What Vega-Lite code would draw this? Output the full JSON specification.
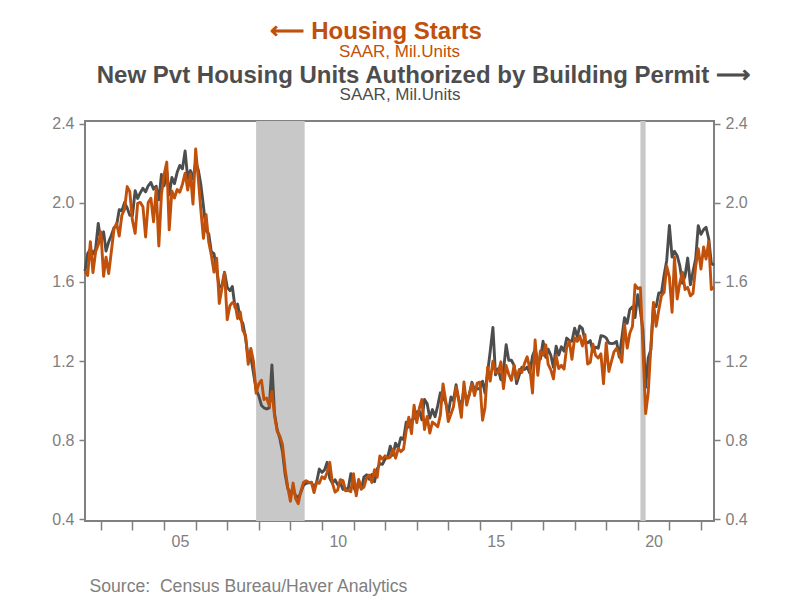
{
  "$schema": "https://vega.github.io/schema/vega-lite/v6.json",
  "width": 629,
  "height": 400,
  "autosize": {"type": "none"},
  "padding": {"left": 85, "top": 121, "right": 86, "bottom": 79},
  "background": "white",
  "config": {
    "view": {"stroke": "#808080", "strokeWidth": 2},
    "font": "Liberation Sans"
  },
  "title": {
    "text": "⟵ Housing Starts\u00a0\u00a0\u00a0\u00a0\u00a0\u00a0\u00a0\u200b",
    "subtitle": "SAAR, Mil.Units",
    "color": "#C0500A",
    "subtitleColor": "#C0500A",
    "font": "Liberation Sans",
    "subtitleFont": "Liberation Sans",
    "fontSize": 24,
    "fontWeight": "bold",
    "subtitleFontSize": 17,
    "subtitlePadding": 0,
    "anchor": "middle",
    "frame": "group",
    "offset": 3
  },
  "datasets": {
    "housing": [
      {"date":"2002-07-01","starts":1.655,"permits":1.654},
      {"date":"2002-08-01","starts":1.633,"permits":1.744},
      {"date":"2002-09-01","starts":1.804,"permits":1.767},
      {"date":"2002-10-01","starts":1.648,"permits":1.742},
      {"date":"2002-11-01","starts":1.753,"permits":1.768},
      {"date":"2002-12-01","starts":1.788,"permits":1.896},
      {"date":"2003-01-01","starts":1.853,"permits":1.808},
      {"date":"2003-02-01","starts":1.629,"permits":1.854},
      {"date":"2003-03-01","starts":1.726,"permits":1.757},
      {"date":"2003-04-01","starts":1.643,"permits":1.803},
      {"date":"2003-05-01","starts":1.751,"permits":1.835},
      {"date":"2003-06-01","starts":1.867,"permits":1.875},
      {"date":"2003-07-01","starts":1.897,"permits":1.885},
      {"date":"2003-08-01","starts":1.833,"permits":1.966},
      {"date":"2003-09-01","starts":1.939,"permits":1.961},
      {"date":"2003-10-01","starts":1.967,"permits":2.002},
      {"date":"2003-11-01","starts":2.083,"permits":1.975},
      {"date":"2003-12-01","starts":2.057,"permits":1.938},
      {"date":"2004-01-01","starts":1.911,"permits":1.937},
      {"date":"2004-02-01","starts":1.846,"permits":2.062},
      {"date":"2004-03-01","starts":1.998,"permits":2.023},
      {"date":"2004-04-01","starts":2.003,"permits":2.052},
      {"date":"2004-05-01","starts":1.981,"permits":2.074},
      {"date":"2004-06-01","starts":1.828,"permits":2.056},
      {"date":"2004-07-01","starts":2.002,"permits":2.087},
      {"date":"2004-08-01","starts":2.024,"permits":2.104},
      {"date":"2004-09-01","starts":1.905,"permits":2.070},
      {"date":"2004-10-01","starts":2.072,"permits":2.085},
      {"date":"2004-11-01","starts":1.782,"permits":2.016},
      {"date":"2004-12-01","starts":2.042,"permits":2.144},
      {"date":"2005-01-01","starts":2.144,"permits":2.087},
      {"date":"2005-02-01","starts":2.207,"permits":2.163},
      {"date":"2005-03-01","starts":1.864,"permits":2.041},
      {"date":"2005-04-01","starts":2.061,"permits":2.129},
      {"date":"2005-05-01","starts":2.025,"permits":2.098},
      {"date":"2005-06-01","starts":2.068,"permits":2.155},
      {"date":"2005-07-01","starts":2.054,"permits":2.190},
      {"date":"2005-08-01","starts":2.095,"permits":2.173},
      {"date":"2005-09-01","starts":2.151,"permits":2.263},
      {"date":"2005-10-01","starts":2.065,"permits":2.124},
      {"date":"2005-11-01","starts":2.147,"permits":2.164},
      {"date":"2005-12-01","starts":1.994,"permits":2.121},
      {"date":"2006-01-01","starts":2.273,"permits":2.209},
      {"date":"2006-02-01","starts":2.119,"permits":2.166},
      {"date":"2006-03-01","starts":1.969,"permits":2.096},
      {"date":"2006-04-01","starts":1.821,"permits":1.984},
      {"date":"2006-05-01","starts":1.942,"permits":1.861},
      {"date":"2006-06-01","starts":1.802,"permits":1.844},
      {"date":"2006-07-01","starts":1.737,"permits":1.753},
      {"date":"2006-08-01","starts":1.650,"permits":1.743},
      {"date":"2006-09-01","starts":1.720,"permits":1.661},
      {"date":"2006-10-01","starts":1.491,"permits":1.572},
      {"date":"2006-11-01","starts":1.570,"permits":1.582},
      {"date":"2006-12-01","starts":1.649,"permits":1.649},
      {"date":"2007-01-01","starts":1.409,"permits":1.573},
      {"date":"2007-02-01","starts":1.480,"permits":1.556},
      {"date":"2007-03-01","starts":1.495,"permits":1.577},
      {"date":"2007-04-01","starts":1.490,"permits":1.472},
      {"date":"2007-05-01","starts":1.415,"permits":1.488},
      {"date":"2007-06-01","starts":1.448,"permits":1.414},
      {"date":"2007-07-01","starts":1.354,"permits":1.390},
      {"date":"2007-08-01","starts":1.330,"permits":1.317},
      {"date":"2007-09-01","starts":1.183,"permits":1.216},
      {"date":"2007-10-01","starts":1.264,"permits":1.221},
      {"date":"2007-11-01","starts":1.197,"permits":1.138},
      {"date":"2007-12-01","starts":1.037,"permits":1.055},
      {"date":"2008-01-01","starts":1.084,"permits":1.024},
      {"date":"2008-02-01","starts":1.103,"permits":0.975},
      {"date":"2008-03-01","starts":1.005,"permits":0.963},
      {"date":"2008-04-01","starts":1.013,"permits":0.957},
      {"date":"2008-05-01","starts":0.973,"permits":0.963},
      {"date":"2008-06-01","starts":1.046,"permits":1.180},
      {"date":"2008-07-01","starts":0.923,"permits":0.934},
      {"date":"2008-08-01","starts":0.844,"permits":0.852},
      {"date":"2008-09-01","starts":0.820,"permits":0.807},
      {"date":"2008-10-01","starts":0.777,"permits":0.741},
      {"date":"2008-11-01","starts":0.652,"permits":0.626},
      {"date":"2008-12-01","starts":0.560,"permits":0.555},
      {"date":"2009-01-01","starts":0.490,"permits":0.531},
      {"date":"2009-02-01","starts":0.582,"permits":0.550},
      {"date":"2009-03-01","starts":0.505,"permits":0.519},
      {"date":"2009-04-01","starts":0.478,"permits":0.508},
      {"date":"2009-05-01","starts":0.540,"permits":0.534},
      {"date":"2009-06-01","starts":0.585,"permits":0.571},
      {"date":"2009-07-01","starts":0.594,"permits":0.581},
      {"date":"2009-08-01","starts":0.586,"permits":0.583},
      {"date":"2009-09-01","starts":0.585,"permits":0.586},
      {"date":"2009-10-01","starts":0.534,"permits":0.555},
      {"date":"2009-11-01","starts":0.588,"permits":0.589},
      {"date":"2009-12-01","starts":0.581,"permits":0.653},
      {"date":"2010-01-01","starts":0.614,"permits":0.636},
      {"date":"2010-02-01","starts":0.604,"permits":0.650},
      {"date":"2010-03-01","starts":0.636,"permits":0.687},
      {"date":"2010-04-01","starts":0.687,"permits":0.606},
      {"date":"2010-05-01","starts":0.583,"permits":0.581},
      {"date":"2010-06-01","starts":0.536,"permits":0.599},
      {"date":"2010-07-01","starts":0.546,"permits":0.574},
      {"date":"2010-08-01","starts":0.599,"permits":0.583},
      {"date":"2010-09-01","starts":0.594,"permits":0.550},
      {"date":"2010-10-01","starts":0.543,"permits":0.552},
      {"date":"2010-11-01","starts":0.545,"permits":0.555},
      {"date":"2010-12-01","starts":0.539,"permits":0.630},
      {"date":"2011-01-01","starts":0.630,"permits":0.563},
      {"date":"2011-02-01","starts":0.517,"permits":0.534},
      {"date":"2011-03-01","starts":0.600,"permits":0.594},
      {"date":"2011-04-01","starts":0.554,"permits":0.551},
      {"date":"2011-05-01","starts":0.561,"permits":0.612},
      {"date":"2011-06-01","starts":0.608,"permits":0.624},
      {"date":"2011-07-01","starts":0.623,"permits":0.601},
      {"date":"2011-08-01","starts":0.585,"permits":0.625},
      {"date":"2011-09-01","starts":0.650,"permits":0.589},
      {"date":"2011-10-01","starts":0.611,"permits":0.653},
      {"date":"2011-11-01","starts":0.719,"permits":0.681},
      {"date":"2011-12-01","starts":0.703,"permits":0.677},
      {"date":"2012-01-01","starts":0.720,"permits":0.704},
      {"date":"2012-02-01","starts":0.708,"permits":0.715},
      {"date":"2012-03-01","starts":0.712,"permits":0.769},
      {"date":"2012-04-01","starts":0.753,"permits":0.723},
      {"date":"2012-05-01","starts":0.708,"permits":0.784},
      {"date":"2012-06-01","starts":0.757,"permits":0.760},
      {"date":"2012-07-01","starts":0.741,"permits":0.812},
      {"date":"2012-08-01","starts":0.754,"permits":0.803},
      {"date":"2012-09-01","starts":0.847,"permits":0.890},
      {"date":"2012-10-01","starts":0.915,"permits":0.866},
      {"date":"2012-11-01","starts":0.833,"permits":0.900},
      {"date":"2012-12-01","starts":0.976,"permits":0.909},
      {"date":"2013-01-01","starts":0.888,"permits":0.942},
      {"date":"2013-02-01","starts":0.962,"permits":0.946},
      {"date":"2013-03-01","starts":1.005,"permits":0.902},
      {"date":"2013-04-01","starts":0.853,"permits":1.005},
      {"date":"2013-05-01","starts":0.919,"permits":0.985},
      {"date":"2013-06-01","starts":0.835,"permits":0.911},
      {"date":"2013-07-01","starts":0.891,"permits":0.954},
      {"date":"2013-08-01","starts":0.880,"permits":0.918},
      {"date":"2013-09-01","starts":0.867,"permits":0.974},
      {"date":"2013-10-01","starts":0.926,"permits":1.039},
      {"date":"2013-11-01","starts":1.084,"permits":1.017},
      {"date":"2013-12-01","starts":1.001,"permits":0.991},
      {"date":"2014-01-01","starts":0.894,"permits":0.937},
      {"date":"2014-02-01","starts":0.932,"permits":1.018},
      {"date":"2014-03-01","starts":0.967,"permits":0.999},
      {"date":"2014-04-01","starts":1.068,"permits":1.080},
      {"date":"2014-05-01","starts":1.002,"permits":1.005},
      {"date":"2014-06-01","starts":0.915,"permits":0.973},
      {"date":"2014-07-01","starts":1.094,"permits":1.057},
      {"date":"2014-08-01","starts":0.977,"permits":1.001},
      {"date":"2014-09-01","starts":1.031,"permits":1.031},
      {"date":"2014-10-01","starts":1.084,"permits":1.092},
      {"date":"2014-11-01","starts":1.025,"permits":1.052},
      {"date":"2014-12-01","starts":1.088,"permits":1.058},
      {"date":"2015-01-01","starts":1.093,"permits":1.062},
      {"date":"2015-02-01","starts":0.900,"permits":1.098},
      {"date":"2015-03-01","starts":0.963,"permits":1.038},
      {"date":"2015-04-01","starts":1.169,"permits":1.143},
      {"date":"2015-05-01","starts":1.098,"permits":1.250},
      {"date":"2015-06-01","starts":1.199,"permits":1.370},
      {"date":"2015-07-01","starts":1.143,"permits":1.130},
      {"date":"2015-08-01","starts":1.140,"permits":1.161},
      {"date":"2015-09-01","starts":1.196,"permits":1.105},
      {"date":"2015-10-01","starts":1.060,"permits":1.150},
      {"date":"2015-11-01","starts":1.177,"permits":1.282},
      {"date":"2015-12-01","starts":1.133,"permits":1.204},
      {"date":"2016-01-01","starts":1.102,"permits":1.204},
      {"date":"2016-02-01","starts":1.178,"permits":1.178},
      {"date":"2016-03-01","starts":1.109,"permits":1.086},
      {"date":"2016-04-01","starts":1.157,"permits":1.130},
      {"date":"2016-05-01","starts":1.142,"permits":1.168},
      {"date":"2016-06-01","starts":1.188,"permits":1.157},
      {"date":"2016-07-01","starts":1.221,"permits":1.169},
      {"date":"2016-08-01","starts":1.163,"permits":1.139},
      {"date":"2016-09-01","starts":1.038,"permits":1.225},
      {"date":"2016-10-01","starts":1.306,"permits":1.260},
      {"date":"2016-11-01","starts":1.128,"permits":1.201},
      {"date":"2016-12-01","starts":1.251,"permits":1.210},
      {"date":"2017-01-01","starts":1.229,"permits":1.300},
      {"date":"2017-02-01","starts":1.282,"permits":1.219},
      {"date":"2017-03-01","starts":1.183,"permits":1.260},
      {"date":"2017-04-01","starts":1.155,"permits":1.229},
      {"date":"2017-05-01","starts":1.109,"permits":1.168},
      {"date":"2017-06-01","starts":1.227,"permits":1.275},
      {"date":"2017-07-01","starts":1.162,"permits":1.230},
      {"date":"2017-08-01","starts":1.178,"permits":1.272},
      {"date":"2017-09-01","starts":1.159,"permits":1.250},
      {"date":"2017-10-01","starts":1.270,"permits":1.316},
      {"date":"2017-11-01","starts":1.299,"permits":1.303},
      {"date":"2017-12-01","starts":1.209,"permits":1.300},
      {"date":"2018-01-01","starts":1.317,"permits":1.366},
      {"date":"2018-02-01","starts":1.299,"permits":1.323},
      {"date":"2018-03-01","starts":1.327,"permits":1.377},
      {"date":"2018-04-01","starts":1.276,"permits":1.364},
      {"date":"2018-05-01","starts":1.334,"permits":1.301},
      {"date":"2018-06-01","starts":1.184,"permits":1.292},
      {"date":"2018-07-01","starts":1.193,"permits":1.303},
      {"date":"2018-08-01","starts":1.285,"permits":1.249},
      {"date":"2018-09-01","starts":1.228,"permits":1.270},
      {"date":"2018-10-01","starts":1.215,"permits":1.265},
      {"date":"2018-11-01","starts":1.236,"permits":1.328},
      {"date":"2018-12-01","starts":1.085,"permits":1.326},
      {"date":"2019-01-01","starts":1.291,"permits":1.317},
      {"date":"2019-02-01","starts":1.147,"permits":1.291},
      {"date":"2019-03-01","starts":1.195,"permits":1.288},
      {"date":"2019-04-01","starts":1.246,"permits":1.290},
      {"date":"2019-05-01","starts":1.264,"permits":1.299},
      {"date":"2019-06-01","starts":1.233,"permits":1.220},
      {"date":"2019-07-01","starts":1.194,"permits":1.317},
      {"date":"2019-08-01","starts":1.386,"permits":1.419},
      {"date":"2019-09-01","starts":1.265,"permits":1.391},
      {"date":"2019-10-01","starts":1.340,"permits":1.461},
      {"date":"2019-11-01","starts":1.375,"permits":1.474},
      {"date":"2019-12-01","starts":1.586,"permits":1.420},
      {"date":"2020-01-01","starts":1.567,"permits":1.536},
      {"date":"2020-02-01","starts":1.571,"permits":1.452},
      {"date":"2020-03-01","starts":1.269,"permits":1.356},
      {"date":"2020-04-01","starts":0.934,"permits":1.066},
      {"date":"2020-05-01","starts":1.038,"permits":1.216},
      {"date":"2020-06-01","starts":1.273,"permits":1.258},
      {"date":"2020-07-01","starts":1.497,"permits":1.483},
      {"date":"2020-08-01","starts":1.376,"permits":1.476},
      {"date":"2020-09-01","starts":1.459,"permits":1.545},
      {"date":"2020-10-01","starts":1.530,"permits":1.545},
      {"date":"2020-11-01","starts":1.547,"permits":1.635},
      {"date":"2020-12-01","starts":1.680,"permits":1.709},
      {"date":"2021-01-01","starts":1.625,"permits":1.886},
      {"date":"2021-02-01","starts":1.447,"permits":1.726},
      {"date":"2021-03-01","starts":1.725,"permits":1.755},
      {"date":"2021-04-01","starts":1.514,"permits":1.733},
      {"date":"2021-05-01","starts":1.594,"permits":1.683},
      {"date":"2021-06-01","starts":1.650,"permits":1.594},
      {"date":"2021-07-01","starts":1.562,"permits":1.630},
      {"date":"2021-08-01","starts":1.573,"permits":1.721},
      {"date":"2021-09-01","starts":1.530,"permits":1.586},
      {"date":"2021-10-01","starts":1.542,"permits":1.653},
      {"date":"2021-11-01","starts":1.678,"permits":1.717},
      {"date":"2021-12-01","starts":1.768,"permits":1.885},
      {"date":"2022-01-01","starts":1.666,"permits":1.841},
      {"date":"2022-02-01","starts":1.777,"permits":1.865},
      {"date":"2022-03-01","starts":1.716,"permits":1.877},
      {"date":"2022-04-01","starts":1.805,"permits":1.819},
      {"date":"2022-05-01","starts":1.562,"permits":1.695},
      {"date":"2022-06-01","starts":1.575,"permits":1.685}
    ],
    "recessions": [
      {"start":"2007-12-01","end":"2009-06-15"},
      {"start":"2020-02-01","end":"2020-04-01"}
    ]
  },
  "layer": [
    {
      "data": {"name": "recessions"},
      "mark": {"type": "rect", "color": "#C8C8C8"},
      "encoding": {
        "x": {"field": "start", "type": "temporal", "scale": {"type": "utc", "domain": [{"year": 2002, "month": 7, "date": 1, "utc": true}, {"year": 2022, "month": 6, "date": 1, "utc": true}]}, "axis": null},
        "x2": {"field": "end"}
      }
    },
    {
      "data": {"name": "housing"},
      "mark": {"type": "line", "color": "#4D4D4D", "strokeWidth": 2.9, "strokeJoin": "round"},
      "encoding": {
        "x": {"field": "date", "type": "temporal", "scale": {"type": "utc", "domain": [{"year": 2002, "month": 7, "date": 1, "utc": true}, {"year": 2022, "month": 6, "date": 1, "utc": true}]},
          "axis": {
            "orient": "top",
            "values": [{"year": 2012, "month": 6, "date": 16, "utc": true}],
            "labelExpr": "'SAAR, Mil.Units'",
            "labelFont": "Liberation Sans",
            "labelFontSize": 17,
            "labelColor": "#4D4D4D",
            "labelPadding": 18,
            "ticks": false,
            "tickSize": 0,
            "domain": false,
            "grid": false,
            "title": "\u200b\u00a0\u00a0\u00a0\u00a0\u00a0\u00a0\u00a0New Pvt Housing Units Authorized by Building Permit ⟶",
            "titleFont": "Liberation Sans",
            "titleFontSize": 24,
            "titleFontWeight": "bold",
            "titleColor": "#4D4D4D",
            "titlePadding": -2
          }
        },
        "y": {"field": "permits", "type": "quantitative", "scale": {"domain": [0.39, 2.415], "nice": false, "zero": false},
          "axis": {
            "orient": "right",
            "values": [0.4, 0.8, 1.2, 1.6, 2.0, 2.4],
            "format": ".1f",
            "title": null,
            "grid": false,
            "domain": false,
            "tickSize": 6,
            "tickColor": "#808080",
            "tickWidth": 1.5,
            "labelFont": "Liberation Sans",
            "labelFontSize": 16,
            "labelColor": "#808080",
            "labelPadding": 5
          }
        }
      }
    },
    {
      "data": {"name": "housing"},
      "mark": {"type": "line", "color": "#C0500A", "strokeWidth": 2.9, "strokeJoin": "round"},
      "encoding": {
        "x": {"field": "date", "type": "temporal", "scale": {"type": "utc", "domain": [{"year": 2002, "month": 7, "date": 1, "utc": true}, {"year": 2022, "month": 6, "date": 1, "utc": true}]},
          "axis": {
            "orient": "bottom",
            "values": [
              {"year": 2003, "month": 1, "date": 1, "utc": true},
              {"year": 2004, "month": 1, "date": 1, "utc": true},
              {"year": 2005, "month": 1, "date": 1, "utc": true},
              {"year": 2006, "month": 1, "date": 1, "utc": true},
              {"year": 2007, "month": 1, "date": 1, "utc": true},
              {"year": 2008, "month": 1, "date": 1, "utc": true},
              {"year": 2009, "month": 1, "date": 1, "utc": true},
              {"year": 2010, "month": 1, "date": 1, "utc": true},
              {"year": 2011, "month": 1, "date": 1, "utc": true},
              {"year": 2012, "month": 1, "date": 1, "utc": true},
              {"year": 2013, "month": 1, "date": 1, "utc": true},
              {"year": 2014, "month": 1, "date": 1, "utc": true},
              {"year": 2015, "month": 1, "date": 1, "utc": true},
              {"year": 2016, "month": 1, "date": 1, "utc": true},
              {"year": 2017, "month": 1, "date": 1, "utc": true},
              {"year": 2018, "month": 1, "date": 1, "utc": true},
              {"year": 2019, "month": 1, "date": 1, "utc": true},
              {"year": 2020, "month": 1, "date": 1, "utc": true},
              {"year": 2021, "month": 1, "date": 1, "utc": true},
              {"year": 2022, "month": 1, "date": 1, "utc": true}
            ],
            "labelExpr": "utcyear(datum.value) % 5 === 0 ? utcFormat(datum.value, '%y') : ''",
            "labelOffset": 15.8,
            "labelOverlap": false,
            "labelFlush": false,
            "labelFont": "Liberation Sans",
            "labelFontSize": 16,
            "labelColor": "#808080",
            "labelPadding": 3,
            "tickSize": 9,
            "tickColor": "#808080",
            "tickWidth": 1.5,
            "domain": false,
            "grid": false,
            "title": "Source:\u00a0 Census Bureau/Haver Analytics",
            "titleFont": "Liberation Sans",
            "titleFontSize": 17.6,
            "titleFontWeight": "normal",
            "titleColor": "#808080",
            "titleAnchor": "start",
            "titleAlign": "left",
            "titleX": 4,
            "titlePadding": 28
          }
        },
        "y": {"field": "starts", "type": "quantitative", "scale": {"domain": [0.39, 2.415], "nice": false, "zero": false},
          "axis": {
            "orient": "left",
            "values": [0.4, 0.8, 1.2, 1.6, 2.0, 2.4],
            "format": ".1f",
            "title": null,
            "grid": false,
            "domain": false,
            "tickSize": 6,
            "tickColor": "#808080",
            "tickWidth": 1.5,
            "labelFont": "Liberation Sans",
            "labelFontSize": 16,
            "labelColor": "#808080",
            "labelPadding": 5
          }
        }
      }
    }
  ],
  "resolve": {"axis": {"x": "independent", "y": "independent"}}
}
